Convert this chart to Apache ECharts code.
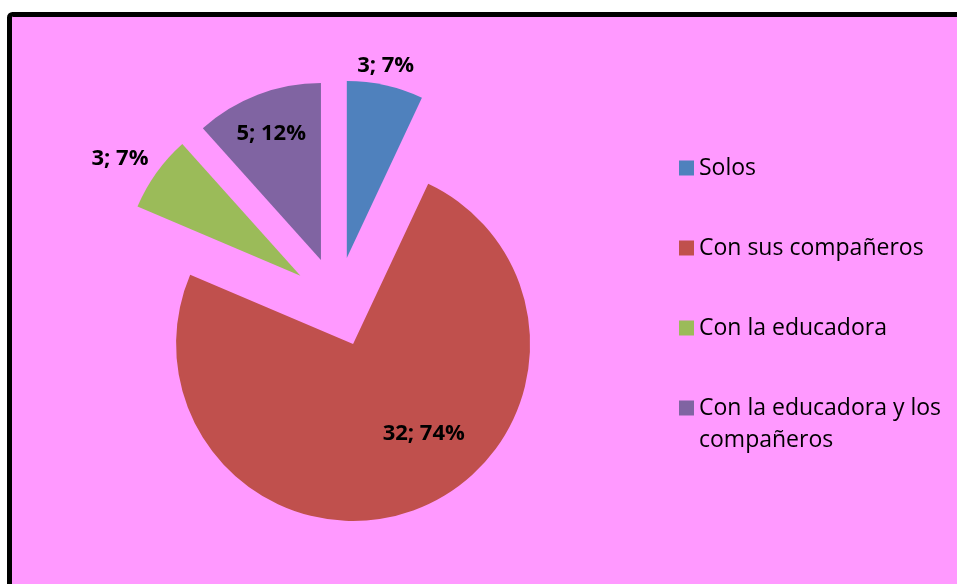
<!DOCTYPE html>
<html>
<head>
<meta charset="utf-8">
<script src="https://cdn.jsdelivr.net/npm/echarts@6/dist/echarts.min.js"></script>
<style>
  html, body { margin: 0; padding: 0; background: #fff; }
  #chart { width: 957px; height: 584px; }
</style>
</head>
<body>
<div id="chart"></div>
<script>
const categories = ['Solos', 'Con sus compañeros', 'Con la educadora', 'Con la educadora y los compañeros'];
const counts = [3, 32, 3, 5];
const colors = ['#4F81BD', '#C0504D', '#9BBB59', '#8064A2'];
// nudge of each label from the default "inside" spot
const labelShift = [[19, -103], [38, 4], [-106, -64], [-17, -41]];

const font = 'Open Sans';

const legendText = {
  fontFamily: font,
  fontSize: 23,
  lineHeight: 32,
  color: '#000'
};

const chart = echarts.init(document.getElementById('chart'));

chart.setOption({
  backgroundColor: '#fff',
  animation: false,
  graphic: [
    {
      type: 'rect',
      z: -10,
      silent: true,
      shape: { x: 9.5, y: 14.5, width: 1000, height: 1000, r: 3 },
      style: { fill: '#FF99FF', stroke: '#000', lineWidth: 5 }
    }
  ],
  legend: [
    {
      orient: 'vertical',
      left: 679,
      top: 152,
      padding: 0,
      itemWidth: 15,
      itemHeight: 15,
      itemGap: 48,
      selectedMode: false,
      icon: 'rect',
      data: categories.slice(0, 3),
      textStyle: legendText
    },
    {
      // last entry wraps on two lines, first line stays beside the swatch
      orient: 'vertical',
      left: 679,
      top: 360,
      padding: 0,
      itemWidth: 15,
      itemHeight: 15,
      selectedMode: false,
      icon: 'rect',
      data: categories.slice(3),
      formatter: () => '\nCon la educadora y los\ncompañeros',
      textStyle: legendText
    }
  ],
  series: [
    {
      type: 'pie',
      center: [337, 302],
      radius: 177,
      startAngle: 90,
      clockwise: true,
      selectedMode: 'multiple',
      selectedOffset: 45,
      avoidLabelOverlap: false,
      emphasis: { disabled: true },
      label: {
        show: true,
        position: 'inside',
        formatter: p => p.value + '; ' + Math.round(p.percent) + '%',
        fontFamily: font,
        fontWeight: 'bold',
        fontSize: 22,
        color: '#000'
      },
      labelLine: { show: false },
      labelLayout: p => ({ dx: labelShift[p.dataIndex][0], dy: labelShift[p.dataIndex][1] }),
      data: categories.map((name, i) => ({
        name: name,
        value: counts[i],
        selected: true,
        itemStyle: { color: colors[i] }
      }))
    }
  ]
});
</script>
</body>
</html>
